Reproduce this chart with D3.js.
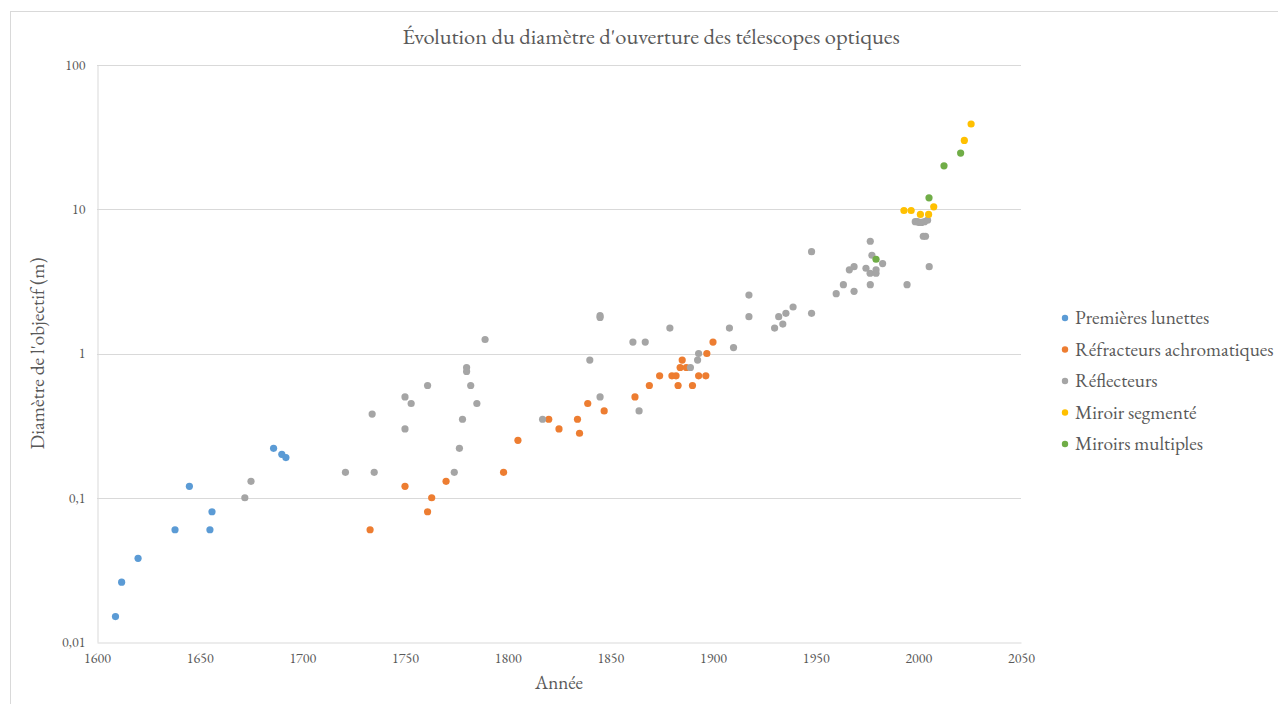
<!DOCTYPE html>
<html lang="fr">
<head>
<meta charset="utf-8">
<script src="https://cdn.jsdelivr.net/npm/d3@7"></script>
<style>
  html, body { margin: 0; padding: 0; background: #fff; }
  svg { display: block; font-family: "EB Garamond", Garamond, "Liberation Serif", "DejaVu Serif", serif; }
</style>
</head>
<body>
<svg id="chart" width="1278" height="704"></svg>
<script>
// Ouverture des télescopes optiques (diamètre en m) par année de mise en service
const premieresYears = [1609, 1612, 1620, 1638, 1645, 1655, 1656, 1686, 1690, 1692];
const premieresVals  = [0.015, 0.026, 0.038, 0.06, 0.12, 0.06, 0.08, 0.22, 0.2, 0.19];

const refracteursYears = [1733, 1750, 1761, 1763, 1770, 1798, 1805, 1820, 1825, 1834, 1835, 1839,
  1847, 1862, 1869, 1874, 1880, 1882, 1883, 1884, 1885, 1887, 1890, 1893, 1896.5, 1897, 1900];
const refracteursVals  = [0.06, 0.12, 0.08, 0.1, 0.13, 0.15, 0.25, 0.35, 0.3, 0.35, 0.28, 0.45,
  0.4, 0.5, 0.6, 0.7, 0.7, 0.7, 0.6, 0.8, 0.9, 0.8, 0.6, 0.7, 0.7, 1.0, 1.2];

const reflecteursYears = [1672, 1675, 1721, 1734, 1735, 1750, 1750, 1753, 1761, 1774, 1776.5, 1778,
  1780, 1780, 1782, 1785, 1789, 1817, 1840, 1845, 1845, 1845, 1861, 1864, 1867, 1879, 1889, 1892.5,
  1893, 1908, 1910, 1917.5, 1917.5, 1930, 1932, 1934, 1935.5, 1939, 1948, 1948, 1960, 1963.5,
  1966.4, 1968.7, 1968.7, 1974.5, 1976.5, 1976.6, 1976.6, 1977.4, 1979.4, 1979.4, 1982.6, 1994.5,
  1998.5, 1999.5, 2000.5, 2001.5, 2002.4, 2003, 2003.5, 2004.5, 2005.3];
const reflecteursVals  = [0.1, 0.13, 0.15, 0.38, 0.15, 0.5, 0.3, 0.45, 0.6, 0.15, 0.22, 0.35,
  0.8, 0.75, 0.6, 0.45, 1.25, 0.35, 0.9, 1.83, 1.78, 0.5, 1.2, 0.4, 1.2, 1.5, 0.8, 0.9,
  1.0, 1.5, 1.1, 1.8, 2.54, 1.5, 1.8, 1.6, 1.9, 2.1, 5.08, 1.9, 2.6, 3.0,
  3.8, 4.0, 2.7, 3.9, 3.6, 6.0, 3.0, 4.8, 3.6, 3.8, 4.2, 3.0,
  8.2, 8.2, 8.1, 8.1, 6.5, 8.2, 6.5, 8.4, 4.0];

const segmenteYears = [1993, 1996.5, 2001, 2005, 2007.5, 2022.4, 2025.7];
const segmenteVals  = [9.8, 9.8, 9.2, 9.2, 10.4, 30, 39];

const multiplesYears = [1979.4, 2005.2, 2012.5, 2020.6];
const multiplesVals  = [4.5, 12, 20, 24.5];

const seriesNames  = ["Premières lunettes", "Réfracteurs achromatiques", "Réflecteurs", "Miroir segmenté", "Miroirs multiples"];
const seriesColors = ["#5B9BD5", "#ED7D31", "#A5A5A5", "#FFC000", "#70AD47"];
const yTicks = [0.01, 0.1, 1, 10, 100];
const xTicks = [1600, 1650, 1700, 1750, 1800, 1850, 1900, 1950, 2000, 2050];

const series = [
  [premieresYears, premieresVals],
  [refracteursYears, refracteursVals],
  [reflecteursYears, reflecteursVals],
  [segmenteYears, segmenteVals],
  [multiplesYears, multiplesVals]
].map(([ys, vs], i) => ({
  name: seriesNames[i],
  color: seriesColors[i],
  points: ys.map((y, j) => ({ year: y, value: vs[j] }))
}));

const svg = d3.select("#chart");
const textColor = "#595959";
const margin = { left: 97, right: 257, top: 65, bottom: 62 };
const W = 1278, H = 704;

// cadre du graphique
svg.append("rect")
  .attr("x", 10.5).attr("y", 11.5)
  .attr("width", 1290).attr("height", 720)
  .attr("fill", "none").attr("stroke", "#D9D9D9");

const x = d3.scaleLinear().domain([1600, 2050]).range([margin.left, W - margin.right]);
const y = d3.scaleLog().domain([0.01, 100]).range([H - margin.bottom, margin.top]);

// lignes de grille horizontales
svg.append("g")
  .selectAll("line")
  .data(yTicks.slice(1))
  .join("line")
  .attr("x1", x(1600)).attr("x2", x(2050))
  .attr("y1", d => Math.round(y(d)) + 0.5).attr("y2", d => Math.round(y(d)) + 0.5)
  .attr("stroke", "#D9D9D9").attr("stroke-width", 1);

// axe des ordonnées
const yAxis = d3.axisLeft(y)
  .tickValues(yTicks)
  .tickFormat(d => String(d).replace(".", ","))
  .tickSize(0).tickPadding(12);
const gy = svg.append("g").attr("transform", `translate(${x(1600) + 0.5},0)`).call(yAxis)
  .attr("font-family", null).attr("font-size", null);
gy.select(".domain").attr("stroke", "#D9D9D9");
gy.selectAll("text").attr("fill", textColor).attr("font-size", 14);

// axe des abscisses
const xAxis = d3.axisBottom(x)
  .tickValues(xTicks)
  .tickFormat(d3.format("d"))
  .tickSize(0).tickPadding(11);
const gx = svg.append("g").attr("transform", `translate(0,${Math.round(y(0.01)) + 0.5})`).call(xAxis)
  .attr("font-family", null).attr("font-size", null);
gx.select(".domain").attr("stroke", "#D9D9D9");
gx.selectAll("text").attr("fill", textColor).attr("font-size", 14);

// points
series.forEach(s => {
  svg.append("g")
    .selectAll("circle")
    .data(s.points)
    .join("circle")
    .attr("cx", d => x(d.year))
    .attr("cy", d => y(d.value))
    .attr("r", 3.6)
    .attr("fill", s.color);
});

// titres
svg.append("text")
  .attr("x", 651).attr("y", 44)
  .attr("text-anchor", "middle")
  .attr("fill", textColor).attr("font-size", 22.5)
  .text("Évolution du diamètre d'ouverture des télescopes optiques");

svg.append("text")
  .attr("x", (x(1600) + x(2050)) / 2).attr("y", 689)
  .attr("text-anchor", "middle")
  .attr("fill", textColor).attr("font-size", 19)
  .text("Année");

svg.append("text")
  .attr("transform", `translate(44,${(y(0.01) + y(100)) / 2}) rotate(-90)`)
  .attr("text-anchor", "middle")
  .attr("fill", textColor).attr("font-size", 19.5)
  .text("Diamètre de l'objectif (m)");

// légende
const legend = svg.append("g").attr("transform", "translate(1065,318)");
const items = legend.selectAll("g")
  .data(series)
  .join("g")
  .attr("transform", (d, i) => `translate(0,${i * 31.5})`);
items.append("circle").attr("r", 3.2).attr("fill", d => d.color);
items.append("text")
  .attr("x", 10).attr("y", 6)
  .attr("fill", textColor).attr("font-size", 19.3)
  .text(d => d.name);
</script>
</body>
</html>
